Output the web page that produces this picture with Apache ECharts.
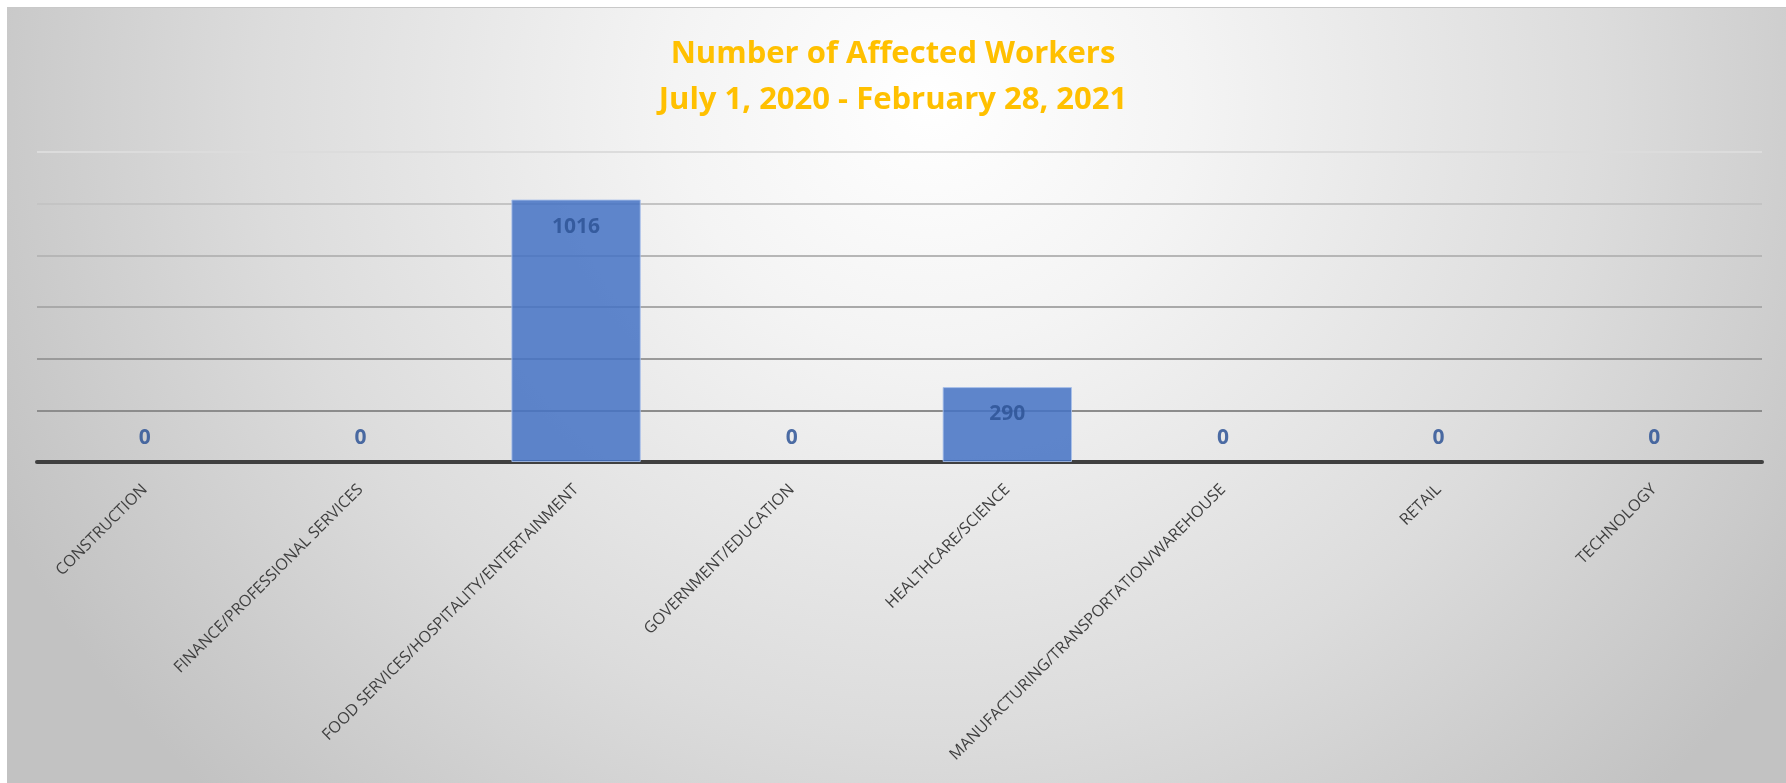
<!DOCTYPE html>
<html>
<head>
<meta charset="utf-8">
<script src="https://cdn.jsdelivr.net/npm/echarts@6/dist/echarts.min.js"></script>
<style>
  html, body { margin: 0; padding: 0; background: #ffffff; }
  #frame {
    position: absolute; left: 7px; top: 7px; width: 1779px; height: 776px;
    border-top: 1px solid #c9c9c9;
    background: radial-gradient(ellipse 58% 125% at 52% 12%, #ffffff 0%, #f4f4f4 25%, #dcdcdc 65%, #c2c2c2 100%);
  }
  #chart { position: absolute; left: 0; top: 0; width: 1786px; height: 783px; }
</style>
</head>
<body>
<div id="frame"></div>
<div id="chart"></div>
<script>
// 行业类别
var categories = [
  'CONSTRUCTION',
  'FINANCE/PROFESSIONAL SERVICES',
  'FOOD SERVICES/HOSPITALITY/ENTERTAINMENT',
  'GOVERNMENT/EDUCATION',
  'HEALTHCARE/SCIENCE',
  'MANUFACTURING/TRANSPORTATION/WAREHOUSE',
  'RETAIL',
  'TECHNOLOGY'
]
// 受影响人数
var workers = [0, 0, 1016, 0, 290, 0, 0, 0]
var titleLines = ['Number of Affected Workers', 'July 1, 2020 - February 28, 2021']

var chart = echarts.init(document.getElementById('chart'))

// 0 值: 标签放在轴线上方, 不画边框
var seriesData = workers.map(function(v) {
  if (v === 0) {
    return { value: v, itemStyle: { borderWidth: 0 }, label: { position: 'top', distance: 12 } }
  }
  return { value: v }
})

var option = {
  backgroundColor: 'transparent',
  animation: false,
  title: {
    text: titleLines.join('\n'),
    left: 'center',
    top: 26,
    textStyle: {
      color: '#FFC000',
      fontFamily: 'Open Sans',
      fontWeight: 'bold',
      fontSize: 31,
      lineHeight: 46
    }
  },
  // 位置
  grid: {
    left: 37,
    right: 24,
    top: 152,
    bottom: 321,
    containLabel: false
  },
  // X轴
  xAxis: {
    type: 'category',
    data: categories,
    axisTick: { show: false },
    axisLine: {
      lineStyle: { color: '#404040', width: 4 }
    },
    axisLabel: {
      interval: 0,
      rotate: 45,
      margin: 25,
      color: '#404040',
      fontFamily: 'Open Sans',
      fontSize: 16
    }
  },
  // Y轴
  yAxis: {
    type: 'value',
    min: 0,
    max: 1200,
    interval: 200,
    axisLabel: { show: false },
    axisLine: { show: false },
    axisTick: { show: false },
    splitLine: {
      lineStyle: {
        width: 2,
        color: ['#8a8a8a', '#8c8c8c', '#9a9a9a', '#a9a9a9', '#b6b6b6', '#c4c4c4', '#dcdcdc']
      }
    }
  },
  series: [{
    type: 'bar',
    barWidth: '60%',
    itemStyle: {
      color: '#4472C4',
      opacity: 0.85,
      borderColor: '#a9c1ea',
      borderWidth: 1
    },
    label: {
      show: true,
      position: 'insideTop',
      distance: 15,
      color: '#2F5597',
      fontFamily: 'Open Sans',
      fontWeight: 'bold',
      fontSize: 21,
      lineHeight: 24
    },
    data: seriesData
  }]
}
chart.setOption(option)
</script>
</body>
</html>
